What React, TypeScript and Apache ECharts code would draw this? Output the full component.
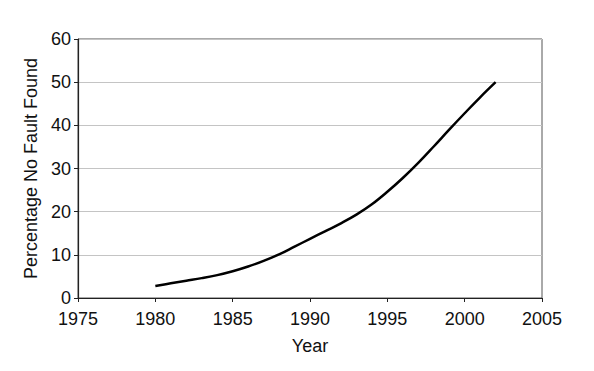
import React, { useEffect, useRef } from "react";
import * as echarts from "echarts";

const years = [1980, 1981, 1982, 1983, 1984, 1985, 1986, 1987, 1988, 1989, 1990, 1991, 1992, 1993, 1994, 1995, 1996, 1997, 1998, 1999, 2000, 2001, 2002];
const percentNFF = [2.8, 3.4, 4.0, 4.6, 5.3, 6.2, 7.3, 8.6, 10.1, 11.9, 13.7, 15.5, 17.3, 19.3, 21.7, 24.6, 27.8, 31.3, 35.1, 39.0, 42.8, 46.5, 50.0];

export default function App() {
  const ref = useRef<HTMLDivElement>(null);
  useEffect(() => {
    if (!ref.current) return;
    const chart = echarts.init(ref.current, undefined, { renderer: "svg" });
    const font = "'Liberation Sans', Arial, sans-serif";
    chart.setOption({
      animation: false,
      backgroundColor: "#ffffff",
      grid: { left: 78, right: 52, top: 39, bottom: 73, show: true, borderColor: "#555", borderWidth: 1, backgroundColor: "transparent" },
      xAxis: {
        type: "value",
        min: 1975,
        max: 2005,
        interval: 5,
        name: "Year",
        nameLocation: "middle",
        nameGap: 39,
        nameTextStyle: { fontFamily: font, fontSize: 18, color: "#111" },
        axisLine: { show: true, lineStyle: { color: "#222", width: 1.2 } },
        axisTick: { show: true, length: 4, lineStyle: { color: "#222" } },
        axisLabel: { fontFamily: font, fontSize: 18, color: "#111", margin: 12, formatter: (v: number) => String(v) },
        splitLine: { show: false },
      },
      yAxis: {
        type: "value",
        min: 0,
        max: 60,
        interval: 10,
        name: "Percentage No Fault Found",
        nameLocation: "middle",
        nameGap: 32,
        nameTextStyle: { fontFamily: font, fontSize: 18, color: "#111" },
        axisLine: { show: true, lineStyle: { color: "#222", width: 1.2 } },
        axisTick: { show: true, length: 4, lineStyle: { color: "#222" } },
        axisLabel: { fontFamily: font, fontSize: 18, color: "#111", margin: 7 },
        splitLine: { show: true, lineStyle: { color: "#c4c4c4", width: 1 } },
      },
      series: [
        {
          type: "line",
          data: years.map((y, i) => [y, percentNFF[i]]),
          smooth: 0.4,
          symbol: "none",
          lineStyle: { color: "#000", width: 2.5 },
        },
      ],
    });
    return () => chart.dispose();
  }, []);
  return <div ref={ref} style={{ width: 594, height: 371, position: "absolute", left: 0, top: 0 }} />;
}
